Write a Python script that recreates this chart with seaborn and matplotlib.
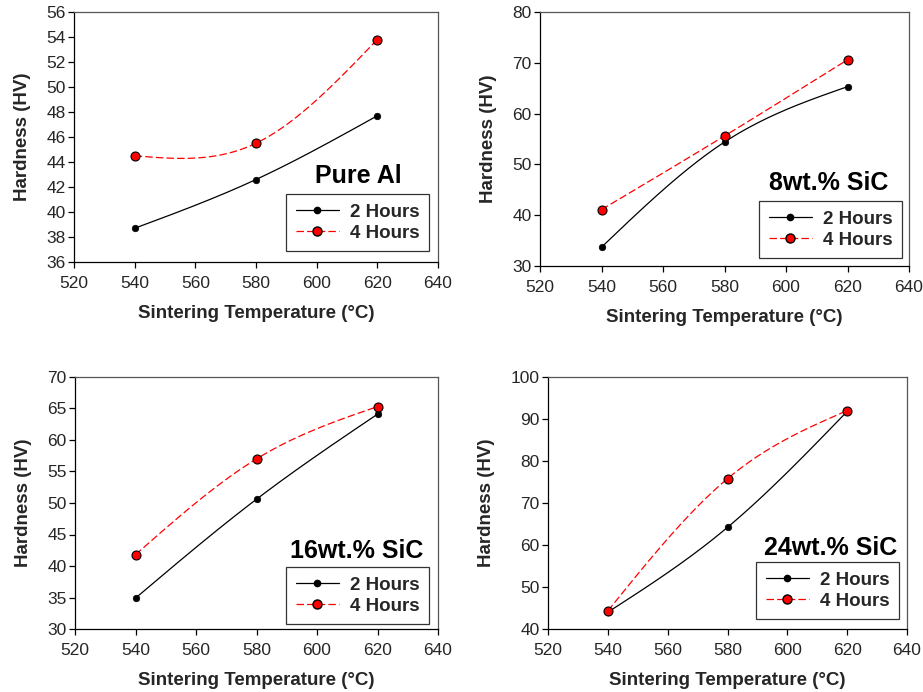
import numpy as np
import pandas as pd
import matplotlib
matplotlib.use("Agg")
import matplotlib.pyplot as plt
import seaborn as sns
from matplotlib.lines import Line2D

sns.set_theme(style="white")
plt.rcParams['font.family'] = ['Liberation Sans', 'DejaVu Sans']

temps = [540, 580, 620]
panel_titles = ["Pure Al", "8wt.% SiC", "16wt.% SiC", "24wt.% SiC"]
series_labels = ["2 Hours", "4 Hours"]
pure_2h = [38.7, 42.6, 47.7]
pure_4h = [44.5, 45.5, 53.8]
sic8_2h = [33.7, 54.4, 65.3]
sic8_4h = [41.1, 55.6, 70.6]
sic16_2h = [34.9, 50.6, 64.1]
sic16_4h = [41.8, 57.0, 65.3]
sic24_2h = [44.0, 64.2, 91.8]
sic24_4h = [44.3, 75.8, 92.0]
ylims = [(36, 56, 2), (30, 80, 10), (30, 70, 5), (40, 100, 10)]

def natural_spline(x, y, n=200):
    x = np.asarray(x, float); y = np.asarray(y, float)
    k = len(x); h = np.diff(x)
    A = np.zeros((k, k)); b = np.zeros(k)
    A[0, 0] = 1; A[-1, -1] = 1
    for i in range(1, k - 1):
        A[i, i - 1] = h[i - 1]; A[i, i] = 2 * (h[i - 1] + h[i]); A[i, i + 1] = h[i]
        b[i] = 6 * ((y[i + 1] - y[i]) / h[i] - (y[i] - y[i - 1]) / h[i - 1])
    M = np.linalg.solve(A, b)
    xs = np.linspace(x[0], x[-1], n); ys = np.empty_like(xs)
    for j, xv in enumerate(xs):
        i = min(np.searchsorted(x, xv, side='right') - 1, k - 2)
        t1 = x[i + 1] - xv; t0 = xv - x[i]
        ys[j] = (M[i] * t1 ** 3 / (6 * h[i]) + M[i + 1] * t0 ** 3 / (6 * h[i])
                 + (y[i] / h[i] - M[i] * h[i] / 6) * t1 + (y[i + 1] / h[i] - M[i + 1] * h[i] / 6) * t0)
    return xs, ys

data = [(pure_2h, pure_4h), (sic8_2h, sic8_4h), (sic16_2h, sic16_4h), (sic24_2h, sic24_4h)]

fig = plt.figure(figsize=(9.23, 6.92), dpi=100)
W, H = 923, 692
# axes pixel boxes: left, right, top, bottom
boxes = [(74, 438, 12, 262), (540, 909, 12, 266), (75, 438, 377, 629), (548, 907, 377, 629)]
leg_anchor = [(0.975, 0.044), (0.981, 0.031), (0.975, 0.02), (0.978, 0.04)]
title_pos = [(0.78, 0.344), (0.783, 0.327), (0.777, 0.31), (0.786, 0.32)]

for idx in range(4):
    l, r, t, btm = boxes[idx]
    ax = fig.add_axes([l / W, 1 - btm / H, (r - l) / W, (btm - t) / H])
    s2, s4 = data[idx]
    xs, ys = natural_spline(temps, s2)
    sns.lineplot(x=xs, y=ys, ax=ax, color='black', lw=0.9, legend=False, zorder=2)
    xs, ys = natural_spline(temps, s4)
    sns.lineplot(x=xs, y=ys, ax=ax, color='red', lw=0.9, legend=False, zorder=3,
                 dashes=False)
    ax.lines[-1].set_dashes([6, 2.5])
    sns.scatterplot(x=temps, y=s2, ax=ax, color='black', s=22, edgecolor='black', linewidth=0.5, zorder=4)
    sns.scatterplot(x=temps, y=s4, ax=ax, color='red', s=42, edgecolor='black', linewidth=0.8, zorder=5)

    y0, y1, ys_ = ylims[idx]
    ax.set_xlim(520, 640)
    ax.set_ylim(y0, y1)
    ax.set_xticks(np.arange(520, 641, 20))
    ax.set_yticks(np.arange(y0, y1 + 0.01, ys_))
    ax.tick_params(axis='both', which='both', direction='out', length=4, width=0.9,
                   labelsize=12.5, color='black', bottom=True, left=True, pad=2)
    ax.tick_params(axis='x', pad=6)
    for side in ['left', 'bottom']:
        ax.spines[side].set_color('black'); ax.spines[side].set_linewidth(0.9)
    for side in ['top', 'right']:
        ax.spines[side].set_color('#555555'); ax.spines[side].set_linewidth(0.9)
    ax.set_xlabel('Sintering Temperature (°C)', fontsize=13.5, fontweight='bold', labelpad=10)
    ax.set_ylabel('Hardness (HV)', fontsize=13.5, fontweight='bold', labelpad=11)
    ax.grid(False)
    ax.set_facecolor('white')

    tx, ty = title_pos[idx]
    ax.text(tx, ty, panel_titles[idx], transform=ax.transAxes, ha='center', va='center',
            fontsize=18, fontweight='bold', color='black')

    handles = [Line2D([0], [0], color='black', lw=0.9, marker='o', markersize=4.5,
                      markerfacecolor='black', markeredgecolor='black'),
               Line2D([0], [0], color='red', lw=0.9, dashes=[6, 2.5], marker='o', markersize=6.5,
                      markerfacecolor='red', markeredgecolor='black')]
    leg = ax.legend(handles, series_labels, loc='lower right', bbox_to_anchor=leg_anchor[idx],
                    prop={'weight': 'bold', 'size': 13.5}, frameon=True,
                    fancybox=False, edgecolor='black', handlelength=2.3, handletextpad=0.6,
                    borderpad=0.5, labelspacing=0.2, borderaxespad=0)
    leg.get_frame().set_linewidth(0.9)

fig.savefig('out.png', dpi=100, facecolor='white')
